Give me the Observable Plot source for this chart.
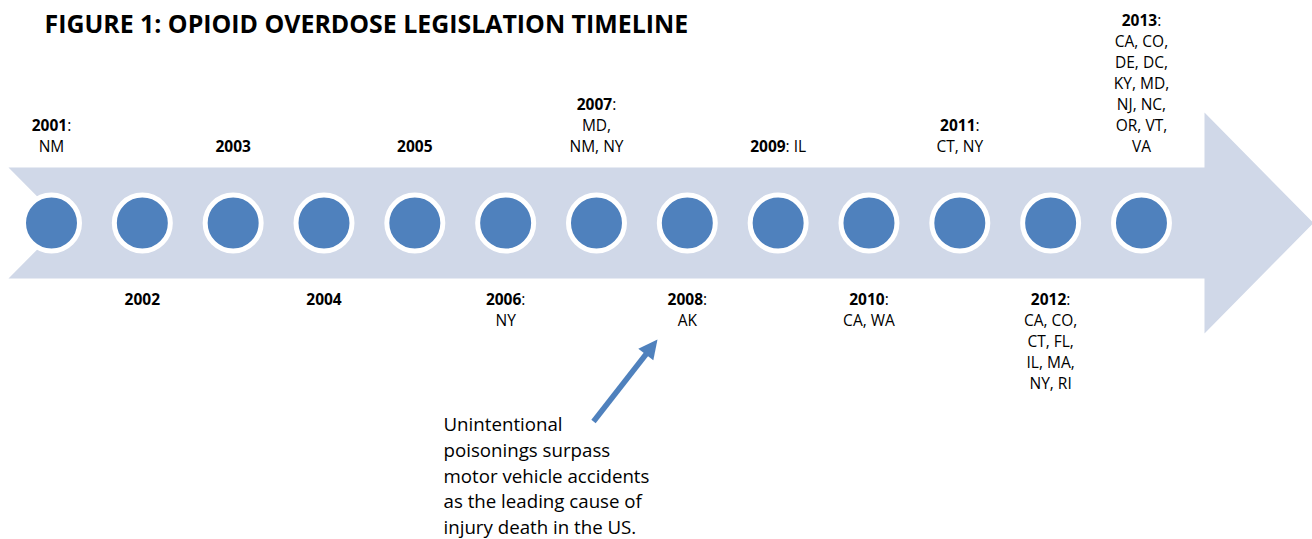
<!DOCTYPE html>
<html><head><meta charset="utf-8">
<script src="https://cdn.jsdelivr.net/npm/d3@7"></script>
<script src="https://cdn.jsdelivr.net/npm/@observablehq/plot@0.6"></script>
<style>
html,body{margin:0;padding:0;background:#fff;}
#chart svg{display:block;}
</style></head><body><div id="chart"></div>
<script>
// ---- data ----
const title = "FIGURE 1: OPIOID OVERDOSE LEGISLATION TIMELINE";
const years = [2001, 2002, 2003, 2004, 2005, 2006, 2007, 2008, 2009, 2010, 2011, 2012, 2013];
const stateText = [
  "NM", "", "", "", "", "NY", "MD,\nNM, NY", "AK", "IL", "CA, WA", "CT, NY",
  "CA, CO,\nCT, FL,\nIL, MA,\nNY, RI",
  "CA, CO,\nDE, DC,\nKY, MD,\nNJ, NC,\nOR, VT,\nVA"
];
const sameLineYears = [2009];
const annotationLines = [
  "Unintentional",
  "poisonings surpass",
  "motor vehicle accidents",
  "as the leading cause of",
  "injury death in the US."
];

// ---- layout ----
const W = 1312, H = 539;
const FONT = "'Open Sans', 'Noto Sans', sans-serif";
const BLUE = "#4F81BD", BAND = "#D0D8E8";
const xScale = Plot.scale({x: {type: "linear", domain: [2000.4385, 2014.883], range: [0, W]}});
const px = v => xScale.invert(v);
const cy = 222.5;

const labels = years.map((yr, i) => {
  const s = stateText[i];
  const txt = s ? yr + ":" + (sameLineYears.includes(yr) ? " " : "\n") + s : String(yr);
  return {year: yr, text: txt, top: yr % 2 === 1};
});

const band = [[8,167],[1204,167],[1204,112],[1313,cy],[1204,333],[1204,278],[8,278],[63,cy],[8,167]]
  .map(([a, b]) => ({x: px(a), y: b}));

// annotation arrow (pixel geometry -> data)
const tail = [593, 421], tip = [657, 339];
const dx = tip[0] - tail[0], dy = tip[1] - tail[1], L = Math.hypot(dx, dy);
const ux = dx / L, uy = dy / L, hl = 19, hw = 9.5;
const base = [tip[0] - hl * ux, tip[1] - hl * uy];
const head = [
  [tip[0], tip[1]],
  [base[0] + hw * -uy, base[1] + hw * ux],
  [base[0] - hw * -uy, base[1] - hw * ux],
  [tip[0], tip[1]]
].map(([a, b]) => ({x: px(a), y: b}));
const shaft = [{x1: px(tail[0]), y1: tail[1], x2: px(base[0] + ux), y2: base[1] + uy}];

const LFS = 15.5, LLH = 21 / 15.5;
const AFS = 18.7, ALH = 25.7 / 18.7;
const TFS = 24.9;

const chart = Plot.plot({
  width: W, height: H,
  margin: 0,
  x: {type: "linear", domain: [2000.4385, 2014.883], range: [0, W], axis: null},
  y: {type: "linear", domain: [0, H], range: [0, H], axis: null},
  style: {fontFamily: FONT, background: "#fff", color: "#000"},
  marks: [
    Plot.line(band, {x: "x", y: "y", fill: BAND, stroke: "none", curve: "linear"}),
    Plot.dot(years, {x: d => d, y: () => cy, r: 28, fill: BLUE, stroke: "#fff", strokeWidth: 5}),
    Plot.text(labels.filter(d => d.top), {x: "year", y: () => 151.7, text: "text", lineAnchor: "bottom", fontSize: LFS, lineHeight: LLH, fill: "#000"}),
    Plot.text(labels.filter(d => !d.top), {x: "year", y: () => 304.3 - 0.71 * LLH * LFS, text: "text", lineAnchor: "top", fontSize: LFS, lineHeight: LLH, fill: "#000"}),
    Plot.text([title], {x: () => px(44), y: () => 32 - 0.71 * TFS, text: d => d, textAnchor: "start", lineAnchor: "top", fontSize: TFS, fontWeight: "bold", fill: "#000"}),
    Plot.text([annotationLines.join("\n")], {x: () => px(443), y: () => 533.5, text: d => d, textAnchor: "start", lineAnchor: "bottom", fontSize: AFS, lineHeight: ALH, fill: "#000"}),
    Plot.link(shaft, {x1: "x1", y1: "y1", x2: "x2", y2: "y2", stroke: BLUE, strokeWidth: 5.5}),
    Plot.line(head, {x: "x", y: "y", fill: BLUE, stroke: "none", curve: "linear"})
  ]
});

// bold the year part of label lines
d3.select(chart).selectAll("text").each(function() {
  const t = d3.select(this);
  const spans = t.selectAll("tspan");
  const nodes = spans.empty() ? [this] : spans.nodes();
  nodes.forEach(n => {
    const s = n.textContent;
    const m = /^(\d{4})(.*)$/.exec(s);
    if (!m) return;
    n.textContent = "";
    d3.select(n).append("tspan").attr("font-weight", "bold").text(m[1]);
    if (m[2]) d3.select(n).append("tspan").text(m[2]);
  });
});

document.getElementById("chart").appendChild(chart);
</script>
</body></html>
